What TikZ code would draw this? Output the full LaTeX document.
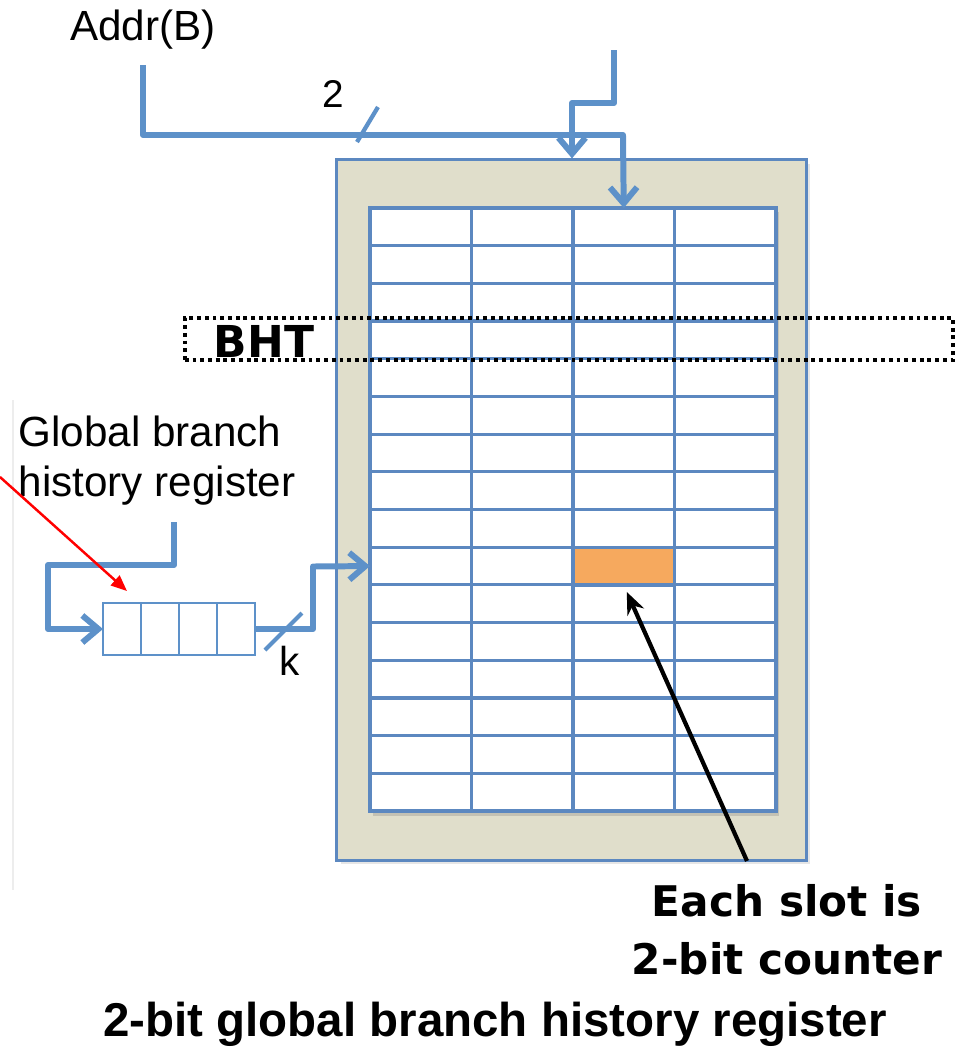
\documentclass[tikz,border=0pt]{standalone}
\usepackage{fontspec}
\setmainfont{Liberation Sans}
\newfontfamily\comicfont{DejaVu Sans}
\usetikzlibrary{arrows.meta,shadows}

\definecolor{wireblue}{RGB}{93,145,201}
\definecolor{tableblue}{RGB}{92,136,192}
\definecolor{bhtback}{RGB}{224,222,203}
\definecolor{slotorange}{RGB}{246,169,94}

\begin{document}
\begin{tikzpicture}[x=0.01cm, y=-0.01cm,
    wire/.style={draw=wireblue, line width=1.7pt, line join=round},
    wirearrow/.style={wire, -{Straight Barb[length=0.16cm, width=0.27cm]}},
    slot/.style={draw=tableblue, line width=0.9pt, fill=white, inner sep=0pt, outer sep=0pt,
                 minimum width=1.015cm, minimum height=0.377cm},
    regcell/.style={draw=wireblue, line width=0.6pt, fill=white, inner sep=0pt, outer sep=0pt,
                 minimum width=0.38cm, minimum height=0.52cm},
    comic/.style={font=\comicfont\bfseries\fontsize{12}{16.5}\selectfont}]

    \useasboundingbox (0,0) rectangle (963,1048);

    % faint slide edge
    \draw[black!7, line width=0.4pt] (13,400) -- (13,890);

    % BHT frame
    \node[draw=tableblue, line width=0.8pt, fill=bhtback, inner sep=0pt,
          minimum width=4.69cm, minimum height=7cm,
          drop shadow={opacity=0.2, shadow xshift=0.04cm, shadow yshift=-0.04cm}] (bht) at (571.5,510) {};
    \fill[white, drop shadow={opacity=0.3, shadow xshift=0.03cm, shadow yshift=-0.04cm}] (370,208) rectangle (776,811.5);

    % Table of 2-bit counters
    \foreach \r in {0,...,15}
        \foreach \c in {0,...,3}
            \node[slot] (cell-\r-\c) at ({420.75+101.5*\c},{226.85+37.69*\r}) {};
    \node[slot, fill=slotorange] (hit) at (cell-9-2) {};

    % History register
    \foreach \i in {0,...,3}
        \node[regcell] (reg-\i) at ({122+38*\i},629) {};

    % Labels
    \node[anchor=base, inner sep=0pt, font=\fontsize{12}{14}\selectfont] (addr) at (143,40) {Addr(B)};
    \node[anchor=base, inner sep=0pt, font=\fontsize{11}{13}\selectfont] (width-two) at (333,107) {2};
    \node[anchor=base west, inner sep=0pt, font=\fontsize{11.5}{13}\selectfont] (width-k) at (279,675) {k};
    \node[anchor=north west, inner sep=0pt, align=left, font=\fontsize{12}{14.2}\selectfont] (ghr-label) at (18,415) {Global branch\\history register};
    \node[anchor=north, inner sep=0pt, align=center, comic] (cnt) at (787,884) {Each slot is\\2-bit counter};
    \node[anchor=base, inner sep=0pt, font=\bfseries\fontsize{13.5}{16}\selectfont] (caption) at (495,1036) {2-bit global branch history register};

    % Address wires
    \coordinate (addr-top) at (143,65);
    \coordinate (addr-bend) at (623,135);
    \draw[wirearrow] (addr-top) |- (addr-bend) -- (cell-0-2.north);
    \draw[wire, line width=1.2pt] (357,142) -- (378,107);

    \coordinate (pc-top) at (614,50);
    \coordinate (pc-bend) at (572,103);
    \draw[wirearrow] (pc-top) |- (pc-bend) -- (pc-bend |- bht.north);

    % History feedback and index
    \coordinate (fb-top) at (174,522);
    \coordinate (fb-left) at (48,565);
    \draw[wirearrow] (fb-top) |- (fb-left) |- (reg-0.west);

    \coordinate (out-up) at (313,566.5);
    \draw[wirearrow] (reg-3.east) -| (out-up) -- (cell-9-0.west);
    \draw[wire, line width=1.2pt] (265,650) -- (302,613);

    % Pointers
    \coordinate (note-start) at (0,477);
    \coordinate (note-end) at (127,591);
    \draw[red, line width=0.7pt, -{Triangle[length=0.16cm, width=0.13cm]}] (note-start) -- (note-end);

    \coordinate (cnt-tail) at (747,861);
    \draw[line width=1.2pt, -{Stealth[length=0.22cm, width=0.18cm]}] (cnt-tail) -- ([shift={(3,7)}]cell-9-2.south);

    % BHT band
    \node[draw, line width=1.1pt, dash pattern=on 1.1pt off 1.1pt, inner sep=0pt,
          minimum width=7.68cm, minimum height=0.42cm] (bht-band) at (569,339) {};
    \node[comic, font=\comicfont\bfseries\fontsize{12.5}{14}\selectfont, inner sep=0pt] (bht-label) at (264,341) {BHT};

\end{tikzpicture}
\end{document}
